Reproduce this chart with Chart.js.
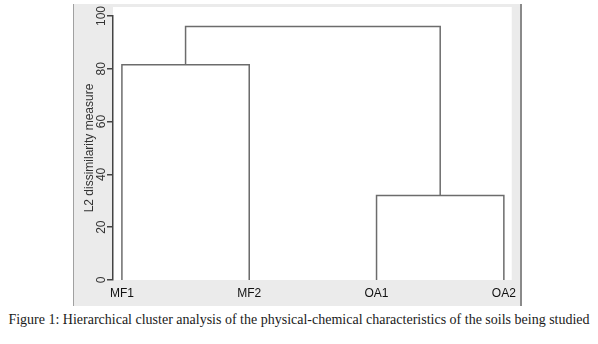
<!DOCTYPE html>
<html>
<head>
<meta charset="utf-8">
<script src="https://cdn.jsdelivr.net/npm/chart.js@4.4.1/dist/chart.umd.min.js"></script>
<style>
  body { margin: 0; background: #fff; width: 598px; height: 344px; position: relative; overflow: hidden; }
  #frame { position: absolute; left: 73px; top: 4px; width: 449px; height: 302px; }
  #caption { position: absolute; left: 0; top: 312px; width: 598px; text-align: center;
    font-family: "Liberation Serif", "DejaVu Serif", serif; font-size: 14px; color: #1a1a1a; white-space: nowrap; }
</style>
</head>
<body>
<div id="frame"><canvas id="grafico" width="449" height="302"></canvas></div>
<div id="caption">Figure 1: Hierarchical cluster analysis of the physical-chemical characteristics of the soils being studied</div>
<script>
const leaves = ["MF1", "MF2", "OA1", "OA2"];
// merge steps: children 0-3 are leaves, 4+ are earlier merges
const mergeLeft = [0, 2, 4];
const mergeRight = [1, 3, 5];
const mergeHeight = [81.5, 32, 96];
const yTicks = [0, 20, 40, 60, 80, 100];

// position and height of each node
const pos = leaves.map((l, i) => i);
const alt = leaves.map(() => 0);
const datasets = [];
for (let i = 0; i < mergeHeight.length; i++) {
  const a = mergeLeft[i], b = mergeRight[i], h = mergeHeight[i];
  datasets.push({
    data: [
      { x: pos[a], y: alt[a] },
      { x: pos[a], y: h },
      { x: pos[b], y: h },
      { x: pos[b], y: alt[b] },
    ],
    borderColor: "#6c6c6c",
    borderWidth: 1.5,
    pointRadius: 0,
    tension: 0,
    fill: false,
  });
  pos.push((pos[a] + pos[b]) / 2);
  alt.push(h);
}

const sfondo = {
  id: "sfondo",
  beforeDraw(chart) {
    const ctx = chart.ctx, a = chart.chartArea;
    ctx.save();
    ctx.fillStyle = "#ebebeb";
    ctx.fillRect(0, 0, chart.width, chart.height);
    ctx.fillStyle = "#ffffff";
    ctx.fillRect(a.left, 3, a.right - a.left, a.bottom - 3);
    ctx.fillStyle = "#a0a0a0";
    ctx.fillRect(0, 0, 1, chart.height);
    ctx.fillStyle = "#8a8a8a";
    ctx.fillRect(chart.width - 2, 0, 2, chart.height);
    ctx.restore();
  },
  afterDraw(chart) {
    const ctx = chart.ctx, y = chart.scales.y;
    ctx.save();
    ctx.fillStyle = "#333";
    ctx.font = "12px 'Liberation Sans', Arial, sans-serif";
    ctx.textAlign = "center";
    ctx.textBaseline = "middle";
    yTicks.forEach(v => {
      ctx.save();
      ctx.translate(29, y.getPixelForValue(v));
      ctx.rotate(-Math.PI / 2);
      ctx.fillText(String(v), 0, 0);
      ctx.restore();
    });
    ctx.restore();
  },
};

const config = {
  type: "line",
  data: { datasets: datasets },
  plugins: [sfondo],
  options: {
    responsive: false,
    animation: false,
    layout: { padding: { top: 12, right: 7, left: 0, bottom: 0 } },
    plugins: { legend: { display: false }, tooltip: { enabled: false } },
    scales: {
      x: {
        type: "linear",
        min: -0.07,
        max: 3.062,
        grid: { display: false, drawTicks: false },
        border: { display: false },
        afterBuildTicks: s => { s.ticks = leaves.map((l, i) => ({ value: i })); },
        afterFit: s => { s.height = 26; },
        ticks: {
          autoSkip: false,
          maxRotation: 0,
          padding: 6,
          color: "#111",
          font: { family: "'Liberation Sans', Arial, sans-serif", size: 12 },
          callback: v => leaves[v],
        },
      },
      y: {
        min: 0,
        max: 100,
        afterBuildTicks: s => { s.ticks = yTicks.map(v => ({ value: v })); },
        afterFit: s => { s.width = 40; },
        grid: { drawOnChartArea: false, drawTicks: true, tickLength: 6, color: "#444", lineWidth: 1.5 },
        border: { display: true, color: "#444", width: 1.5 },
        ticks: { display: false },
        title: {
          display: true,
          text: "L2 dissimilarity measure",
          color: "#333",
          font: { family: "'Liberation Sans', Arial, sans-serif", size: 12 },
          padding: { top: 9, bottom: 0 },
        },
      },
    },
  },
};

new Chart(document.getElementById("grafico"), config);
</script>
</body>
</html>
